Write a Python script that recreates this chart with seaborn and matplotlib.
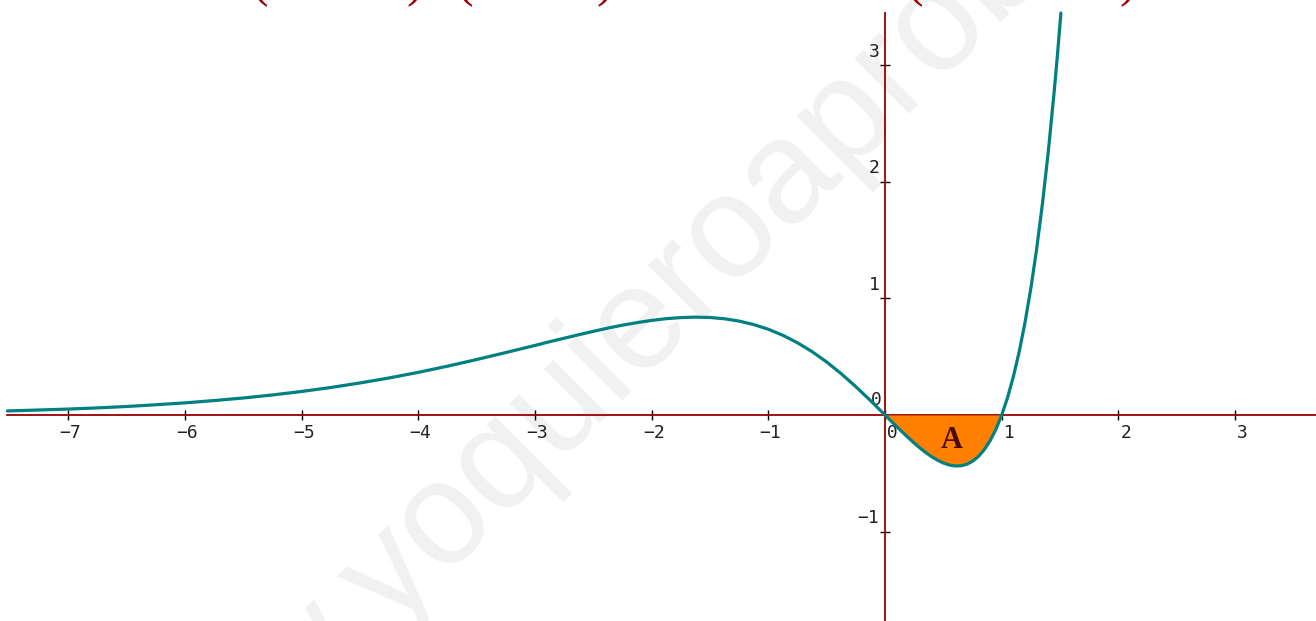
import pandas as pd
import matplotlib
matplotlib.use("Agg")
import matplotlib.pyplot as plt
import seaborn as sns

# values
x_vals = [-7.52, -7.25, -7.0, -6.75, -6.5, -6.25, -6.0, -5.75, -5.5, -5.25,
          -5.0, -4.75, -4.5, -4.25, -4.0, -3.75, -3.5, -3.25, -3.0, -2.875,
          -2.75, -2.625, -2.5, -2.375, -2.25, -2.125, -2.0, -1.875, -1.75, -1.625,
          -1.5, -1.375, -1.25, -1.125, -1.0, -0.875, -0.75, -0.625, -0.5, -0.375,
          -0.25, -0.125, 0.0, 0.05, 0.1, 0.15, 0.2, 0.25, 0.3, 0.35,
          0.4, 0.45, 0.5, 0.55, 0.6, 0.65, 0.7, 0.75, 0.8, 0.85,
          0.9, 0.95, 1.0, 1.05, 1.1, 1.15, 1.2, 1.25, 1.3, 1.35,
          1.4, 1.45, 1.475, 1.507]
y_vals = [0.035, 0.043, 0.051, 0.061, 0.073, 0.088, 0.104, 0.124, 0.146, 0.172,
          0.202, 0.236, 0.275, 0.318, 0.366, 0.419, 0.476, 0.536, 0.597, 0.629,
          0.659, 0.689, 0.718, 0.746, 0.771, 0.793, 0.812, 0.827, 0.836, 0.840,
          0.837, 0.826, 0.806, 0.776, 0.736, 0.684, 0.620, 0.544, 0.455, 0.354,
          0.243, 0.124, 0.0, -0.050, -0.100, -0.148, -0.195, -0.241, -0.284, -0.323,
          -0.358, -0.388, -0.412, -0.429, -0.437, -0.436, -0.423, -0.397, -0.356, -0.298,
          -0.221, -0.123, 0.0, 0.150, 0.331, 0.545, 0.797, 1.091, 1.431, 1.823,
          2.271, 2.782, 3.063, 3.45]

x_ticks = [-7, -6, -5, -4, -3, -2, -1, 0, 1, 2, 3]
x_tick_labels = ["\u22127", "\u22126", "\u22125", "\u22124", "\u22123", "\u22122",
                 "\u22121", " 0", " 1", " 2", " 3"]
y_ticks = [-1, 1, 2, 3]
y_tick_labels = ["\u22121", "1", "2", "3"]
y_zero_label = "0"
area_label = "A"
watermark = "www.yoquieroaprobar.es"

df = pd.DataFrame({"x": x_vals, "y": y_vals})
region = df[(df["x"] >= 0) & (df["x"] <= 1)]

sns.set_theme(style="white")
plt.rcParams["font.family"] = ["DejaVu Sans Mono", "DejaVu Sans"]

axis_col = "#990000"
fig = plt.figure(figsize=(13.16, 6.21), dpi=100)
ax = fig.add_axes([0, 0, 1, 1])
ax.set_xlim(-7.584, 3.693)
ax.set_ylim(-1.768, 3.562)
ax.set_facecolor("white")

# watermark, kept under the curve and the axes
ax.text(0.111, -0.414, watermark, transform=fig.transFigure, rotation=45,
        rotation_mode="anchor", ha="left", va="baseline", fontsize=105,
        color="#f1f1f1", family="Liberation Sans", zorder=0.5, clip_on=False)

# cut-off formula brackets at the top edge
for px, ch in [(260, "("), (415, ")"), (465, "("), (605, ")"), (915, "("), (1128, ")")]:
    fig.text(px / 1316, 1 - 7 / 621, ch, ha="center", va="bottom", fontsize=36,
             color=axis_col, family="Liberation Serif")

for side in ["top", "right"]:
    ax.spines[side].set_visible(False)
ax.spines["bottom"].set_position(("data", 0))
ax.spines["left"].set_position(("data", 0))
ax.spines["bottom"].set_bounds(-7.52, 3.693)
ax.spines["left"].set_bounds(-1.768, 3.45)
for side in ["bottom", "left"]:
    ax.spines[side].set_color(axis_col)
    ax.spines[side].set_linewidth(1.3)
    ax.spines[side].set_zorder(2)

ax.set_xticks(x_ticks)
ax.set_yticks(y_ticks)
ax.tick_params(direction="inout", length=7, width=1, color="black",
               labelbottom=False, labelleft=False, bottom=True, left=True)

for t, lab in zip(x_ticks, x_tick_labels):
    ax.annotate(lab, (t, 0), xytext=(1.5, -13), textcoords="offset points",
                ha="center", va="center", fontsize=13, color="#222222")
for t, lab in zip(y_ticks, y_tick_labels):
    ax.annotate(lab, (0, t), xytext=(-4, 10), textcoords="offset points",
                ha="right", va="center", fontsize=13, color="#222222")
ax.annotate(y_zero_label, (0, 0), xytext=(-6, 11), textcoords="offset points",
            ha="center", va="center", fontsize=13, color="#222222")

ax.fill_between(region["x"], region["y"], 0, color="#ff8000", lw=0, zorder=3)
sns.lineplot(data=df, x="x", y="y", sort=False, estimator=None, color="#008080",
             linewidth=2.3, ax=ax, zorder=4)
ax.text(0.574, -0.215, area_label, ha="center", va="center", fontsize=22,
        fontweight="bold", family="Liberation Serif", color="#4a0a00", zorder=5)

ax.set_xlabel("")
ax.set_ylabel("")
fig.savefig("out.png", dpi=100)
